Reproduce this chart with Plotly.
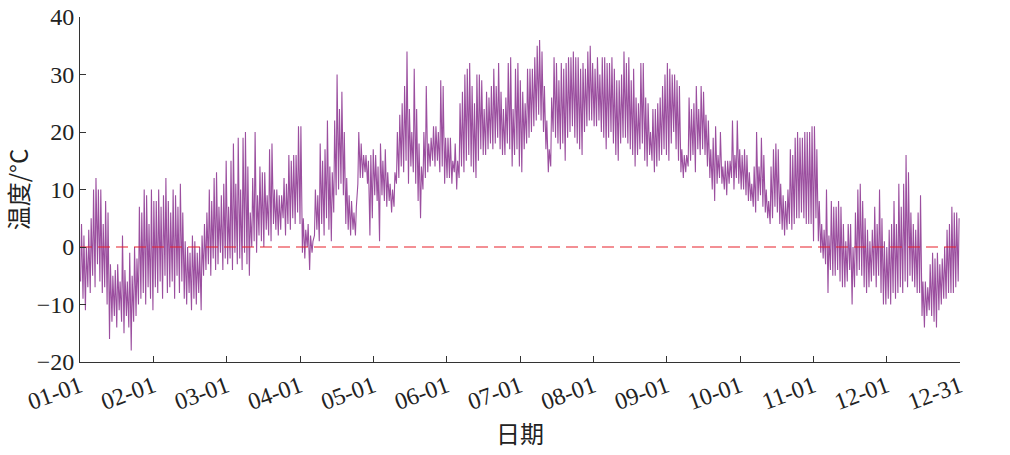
import plotly.graph_objects as go

# Daily high / low temperatures (°C), one value per day, grouped by tick interval
daily_high = [
    # Jan
    4, 2, 0, 3, 5, 10, 12, 10, 10, 4, 8, 6, -3, -5, -4, -3, -6, 2, -4, -6, -1, -5, 0, -2, 7, 6, 10, 9, 4, 10, 8,
    # Feb
    8, 10, 7, 9, 12, 8, 6, 10, 9, 7, 11, 6, 1, 0, -1, 2, 1, -1, 0, 2, 4, 6, 10, 8, 12, 13, 7, 9, 11, 15,
    # Mar
    7, 15, 18, 11, 19, 10, 19, 20, 14, 6, 12, 20, 9, 14, 13, 13, 9, 17, 18, 10, 10, 9, 9, 12, 11, 16, 15, 16, 16, 21, 21,
    # Apr
    5, 3, 4, 2, 1, 10, 9, 18, 15, 17, 22, 14, 13, 22, 30, 24, 27, 20, 12, 9, 8, 6, 7, 20, 18, 16, 16, 15, 16, 17,
    # May
    16, 14, 18, 15, 17, 13, 11, 10, 13, 20, 23, 25, 28, 34, 24, 20, 31, 24, 18, 14, 20, 28, 18, 19, 21, 21, 20, 29, 28, 19, 19,
    # Jun
    19, 15, 18, 15, 25, 27, 30, 31, 32, 28, 25, 30, 30, 29, 24, 27, 26, 28, 31, 28, 32, 27, 24, 26, 32, 33, 24, 31, 32, 29,
    # Jul
    27, 25, 31, 31, 31, 33, 35, 36, 34, 28, 22, 17, 26, 33, 32, 29, 32, 31, 32, 33, 33, 34, 33, 33, 31, 32, 31, 34, 35, 32, 31,
    # Aug
    33, 30, 33, 33, 32, 32, 33, 31, 29, 29, 30, 34, 32, 33, 29, 31, 26, 25, 32, 32, 26, 25, 20, 24, 24, 25, 26, 28, 30, 32,
    # Sep
    31, 30, 30, 29, 28, 17, 16, 16, 26, 24, 25, 28, 24, 28, 27, 23, 22, 17, 19, 21, 16, 20, 14, 15, 15, 15, 22, 16, 22, 17, 16,
    # Oct
    17, 16, 13, 11, 14, 20, 14, 19, 16, 10, 8, 14, 17, 18, 17, 11, 9, 8, 10, 17, 16, 19, 20, 19, 19, 20, 20, 20, 21, 21,
    # Nov
    17, 8, 4, 3, 10, 2, 8, 7, 7, 8, 7, 4, 1, 4, 4, 0, 6, 10, 11, 8, 5, 3, 1, 3, 7, 4, 10, 5, 1, 0, 3,
    # Dec
    4, 8, 4, 11, 7, 11, 16, 13, 6, 4, 3, 6, 9, -6, -6, -7, -3, -1, -2, -1, -3, -2, 0, 3, 4, 7, 6, 6, 5,
]

daily_low = [
    # Jan
    -6, -9, -11, -7, -8, -5, -7, -3, -6, -8, -7, -10, -16, -13, -12, -14, -11, -13, -15, -12, -14, -18, -13, -12, -10, -9, -8, -10, -7, -9, -11,
    # Feb
    -7, -8, -6, -9, -5, -8, -7, -6, -9, -5, -8, -6, -9, -10, -8, -11, -9, -10, -8, -11, -5, -4, -3, -5, -2, -4, -3, -1, -4, -2,
    # Mar
    -3, -2, -4, -1, -3, -2, -4, -1, -3, -5, 0, 1, -1, 2, 1, 0, 3, 2, 1, 4, 3, 2, 3, 5, 2, 4, 3, 5, 4, 6, 4,
    # Apr
    -1, -2, 0, -4, -1, 2, 3, 1, 4, 2, 5, 3, 1, 6, 9, 10, 11, 9, 4, 3, 2, 3, 2, 11, 12, 12, 13, 11, 2, 5,
    # May
    9, 8, 1, 9, 8, 7, 8, 6, 7, 11, 12, 14, 13, 15, 11, 14, 13, 11, 8, 5, 10, 12, 13, 14, 15, 14, 15, 13, 14, 11, 12,
    # Jun
    12, 11, 13, 10, 12, 14, 13, 15, 16, 14, 13, 12, 15, 17, 16, 16, 17, 18, 17, 18, 19, 17, 16, 16, 18, 17, 14, 16, 17, 14,
    # Jul
    13, 17, 18, 19, 20, 21, 22, 23, 22, 20, 17, 13, 14, 20, 19, 18, 17, 18, 15, 19, 20, 21, 19, 18, 17, 16, 20, 21, 22, 22, 21,
    # Aug
    21, 22, 20, 19, 17, 19, 20, 18, 16, 15, 18, 19, 19, 18, 17, 16, 14, 16, 17, 18, 15, 14, 16, 15, 13, 14, 15, 16, 17, 16,
    # Sep
    15, 18, 20, 17, 15, 13, 12, 13, 14, 15, 16, 13, 17, 16, 17, 16, 14, 12, 10, 8, 11, 12, 11, 10, 9, 11, 12, 10, 12, 11, 10,
    # Oct
    10, 9, 8, 8, 7, 6, 8, 9, 7, 6, 5, 4, 5, 7, 6, 4, 3, 2, 3, 4, 3, 4, 5, 5, 6, 5, 4, 4, 4, 1,
    # Nov
    5, 1, -1, -2, -3, -8, -4, -5, -5, -4, -6, -7, -7, -6, -4, -10, -7, -5, -4, -5, -7, -8, -7, -6, -5, -7, -5, -8, -10, -10, -9,
    # Dec
    -10, -8, -9, -8, -7, -8, -6, -7, -5, -6, -7, -8, -8, -12, -14, -12, -11, -12, -13, -14, -11, -10, -9, -9, -8, -8, -8, -7, -6,
]

tick_labels = ["01-01", "02-01", "03-01", "04-01", "05-01", "06-01", "07-01",
               "08-01", "09-01", "10-01", "11-01", "12-01", "12-31"]
freezing_point = 0
hours_per_year = 8760
low_hour, high_hour = 6, 15

# Build hourly positions: each day low at early morning, high in afternoon
x_vals, y_vals = [], []
for d, (lo, hi) in enumerate(zip(daily_low, daily_high)):
    x_vals += [d * 24 + low_hour, d * 24 + high_hour]
    y_vals += [lo, hi]

n_ticks = len(tick_labels)
tick_vals = [hours_per_year * k / (n_ticks - 1) for k in range(n_ticks)]

font_main = "Liberation Serif, Times New Roman, Noto Sans CJK SC, serif"

fig = go.Figure()
fig.add_trace(go.Scatter(
    x=x_vals, y=y_vals, mode="lines",
    line=dict(color="#9B4F9F", width=1.1),
    hoverinfo="skip", showlegend=False,
))
fig.add_trace(go.Scatter(
    x=[0, hours_per_year], y=[freezing_point, freezing_point], mode="lines",
    line=dict(color="#E8202A", width=1.2, dash="12px,6px"),
    hoverinfo="skip", showlegend=False,
))

fig.update_layout(
    width=1010, height=455,
    margin=dict(l=80, r=50, t=17, b=93),
    paper_bgcolor="white", plot_bgcolor="white",
    font=dict(family=font_main, size=24, color="#222"),
    showlegend=False,
)
fig.update_xaxes(
    range=[0, hours_per_year], automargin=False,
    tickvals=tick_vals, ticktext=tick_labels,
    tickangle=-20, ticklabeloverflow="allow",
    ticks="inside", ticklen=6, tickcolor="#333", tickwidth=1,
    showline=True, linecolor="#333", linewidth=1,
    showgrid=False, zeroline=False,
    tickfont=dict(family=font_main, size=24, color="#222"),
    title=dict(text="日期", font=dict(family="Noto Sans CJK SC", size=24, color="#222"), standoff=0),
)
fig.update_yaxes(
    range=[-20, 40], dtick=10, tick0=-20, automargin=False,
    ticklabeloverflow="allow",
    ticks="inside", ticklen=6, tickcolor="#333", tickwidth=1,
    showline=True, linecolor="#333", linewidth=1,
    showgrid=False, zeroline=False,
    tickfont=dict(family=font_main, size=24, color="#222"),
    title=dict(text="温度/°C", font=dict(family="Noto Sans CJK SC", size=24, color="#222"), standoff=22),
)

fig.write_html("out.html", config={"displayModeBar": False},
               post_script="document.body.style.margin='0';")
